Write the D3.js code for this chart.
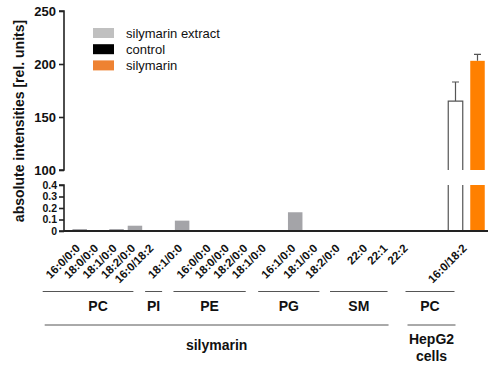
<!DOCTYPE html>
<html>
<head>
<meta charset="utf-8">
<script src="https://cdn.jsdelivr.net/npm/d3@7"></script>
<style>
  body { margin: 0; background: #fff; }
  svg { font-family: "Liberation Sans", Arial, sans-serif; }
</style>
</head>
<body>
<svg id="chart" width="488" height="367"></svg>
<script>
// category labels along the x axis
const categories = ["16:0/0:0", "18:0/0:0", "18:1/0:0", "18:2/0:0", "16:0/18:2",
    "18:1/0:0",
    "16:0/0:0", "18:0/0:0", "18:2/0:0", "18:1/0:0",
    "16:1/0:0", "18:1/0:0", "18:2/0:0",
    "22:0", "22:1", "22:2",
    "16:0/18:2"];
// position of each category along the axis (in category units, gaps between groups)
const slots = [0, 1, 2, 3, 4, 5.56, 7.1, 8.1, 9.1, 10.1, 11.7, 12.9, 14.1, 15.6, 16.7, 17.8, 21];
// which lipid class each category belongs to
const groupOf = [0, 0, 0, 0, 0, 1, 2, 2, 2, 2, 3, 3, 3, 4, 4, 4, 5];
const groupNames = ["PC", "PI", "PE", "PG", "SM", "PC"];
const sourceNames = [["silymarin"], ["HepG2", "cells"]];
const sourceOf = [0, 0, 0, 0, 0, 1];

// series values
const extractValues = [0.017, 0, 0.017, 0.046, 0, 0.09, 0, 0, 0, 0, 0.163, 0, 0, 0, 0, 0, null];
const controlValues = [null, null, null, null, null, null, null, null, null, null, null, null, null, null, null, null, 165];
const controlErr = [null, null, null, null, null, null, null, null, null, null, null, null, null, null, null, null, 18];
const silymarinValues = [null, null, null, null, null, null, null, null, null, null, null, null, null, null, null, null, 203];
const silymarinErr = [null, null, null, null, null, null, null, null, null, null, null, null, null, null, null, null, 6];

const legendNames = ["silymarin extract", "control", "silymarin"];
const legendColors = ["#c0c0c0", "#000000", "#ee8232"];

const topTicks = [100, 150, 200, 250];
const bottomTicks = [0, 0.1, 0.2, 0.3, 0.4];

const svg = d3.select("#chart");
const axisColor = "#222";
const lineColor = "#555";

const x = d3.scaleLinear().domain([0, 21]).range([79.7, 466.5]);
const yTop = d3.scaleLinear().domain([100, 250]).range([170, 11]);
const yBot = d3.scaleLinear().domain([0, 0.4]).range([231, 185]);
const axisX = 64;
const barW = 14.5;
const pairOffset = 11;

// y axis, upper segment
const topAxis = svg.append("g")
    .attr("transform", `translate(${axisX},0)`)
    .call(d3.axisLeft(yTop).tickValues(topTicks).tickSize(5).tickPadding(3));
topAxis.selectAll("text").style("font-size", "13px").style("font-weight", "bold").attr("fill", "#111");

// y axis, lower segment
const botAxis = svg.append("g")
    .attr("transform", `translate(${axisX},0)`)
    .call(d3.axisLeft(yBot).tickValues(bottomTicks).tickSize(5).tickPadding(2)
        .tickFormat(d => d === 0 ? "0" : d3.format(".1f")(d)));
botAxis.selectAll("text").style("font-size", "10.5px").style("font-weight", "bold").attr("fill", "#111");

[topAxis, botAxis].forEach(g => {
    g.select(".domain").attr("stroke", axisColor).attr("stroke-width", 1.6)
        .attr("d", g === topAxis
            ? `M-5,${yTop(100)}H0V${yTop(250)}H-5`
            : `M-5,${yBot(0)}H0V${yBot(0.4)}H-5`);
    g.selectAll(".tick line").attr("stroke", axisColor).attr("stroke-width", 1.6);
});

// y title
svg.append("text")
    .attr("transform", `translate(24,${(yTop(250) + yBot(0)) / 2}) rotate(-90)`)
    .attr("text-anchor", "middle")
    .style("font-size", "14px")
    .style("font-weight", "bold")
    .attr("fill", "#111")
    .text("absolute intensities [rel. units]");

// gray bars (silymarin extract)
svg.append("g").selectAll("rect")
    .data(extractValues.map((v, i) => ({ v, i })).filter(d => d.v))
    .enter().append("rect")
    .attr("x", d => x(slots[d.i]) - barW / 2)
    .attr("width", barW)
    .attr("y", d => yBot(d.v))
    .attr("height", d => yBot(0) - yBot(d.v))
    .attr("fill", "#a4a4a8");

// broken bars for HepG2 (value lies in the upper segment)
function brokenBar(values, errs, dx, fill, stroke) {
    const g = svg.append("g");
    values.forEach((v, i) => {
        if (v == null) return;
        const cx = x(slots[i]) + dx;
        const l = cx - barW / 2, r = cx + barW / 2;
        g.append("rect").attr("x", l).attr("width", barW)
            .attr("y", yBot(0.4)).attr("height", yBot(0) - yBot(0.4)).attr("fill", fill);
        g.append("rect").attr("x", l).attr("width", barW)
            .attr("y", yTop(v)).attr("height", yTop(100) - yTop(v)).attr("fill", fill);
        if (stroke) {
            g.append("path")
                .attr("d", `M${l},${yTop(100)}V${yTop(v)}H${r}V${yTop(100)}M${l},${yBot(0.4)}V${yBot(0)}M${r},${yBot(0.4)}V${yBot(0)}`)
                .attr("fill", "none").attr("stroke", stroke).attr("stroke-width", 1.2);
        }
        const e = errs[i];
        g.append("path")
            .attr("d", `M${cx},${yTop(v)}V${yTop(v + e)}M${cx - 3.5},${yTop(v + e)}H${cx + 3.5}`)
            .attr("fill", "none").attr("stroke", lineColor).attr("stroke-width", 1.2);
    });
}
brokenBar(controlValues, controlErr, -pairOffset, "#fff", lineColor);
brokenBar(silymarinValues, silymarinErr, pairOffset, "#ff8000", null);

// x baseline
svg.append("line")
    .attr("x1", axisX).attr("x2", 488)
    .attr("y1", yBot(0)).attr("y2", yBot(0))
    .attr("stroke", axisColor).attr("stroke-width", 1.8);

// rotated category labels
svg.append("g").selectAll("text")
    .data(categories)
    .enter().append("text")
    .attr("transform", (d, i) => `translate(${x(slots[i]) + 1},249) rotate(-45)`)
    .attr("text-anchor", "end")
    .style("font-size", "11.5px")
    .style("font-weight", "bold")
    .attr("fill", "#111")
    .text(d => d);

// lipid class brackets
const groupSpans = groupNames.map((name, gi) => {
    const idx = groupOf.map((g, i) => g === gi ? i : -1).filter(i => i >= 0);
    const paired = idx.some(i => controlValues[i] != null);
    const x0 = x(slots[idx[0]]) - 37 - (paired ? 24 : 0);
    const x1 = x(slots[idx[idx.length - 1]]) - 20 + (paired ? 8 : 0);
    return { name, x0, x1 };
});
const gLines = svg.append("g");
groupSpans.forEach((s, gi) => {
    gLines.append("line").attr("x1", s.x0).attr("x2", s.x1).attr("y1", 291.5).attr("y2", 291.5)
        .attr("stroke", lineColor).attr("stroke-width", 1);
    gLines.append("text").attr("x", (s.x0 + s.x1) / 2 + (gi === 0 ? 10 : 0)).attr("y", 310.5)
        .attr("text-anchor", "middle").style("font-size", "14px").style("font-weight", "bold")
        .attr("fill", "#111").text(s.name);
});

// sample source brackets
sourceNames.forEach((lines, si) => {
    const spans = groupSpans.filter((s, gi) => sourceOf[gi] === si);
    const x0 = d3.min(spans, s => s.x0) + 2;
    const x1 = d3.max(spans, s => s.x1) + 1;
    gLines.append("line").attr("x1", x0).attr("x2", x1).attr("y1", 325).attr("y2", 325)
        .attr("stroke", lineColor).attr("stroke-width", 1);
    const t = gLines.append("text").attr("text-anchor", "middle")
        .style("font-size", "14px").style("font-weight", "bold").attr("fill", "#111");
    lines.forEach((ln, k) => {
        t.append("tspan").attr("x", (x0 + x1) / 2)
            .attr("y", lines.length > 1 ? 344 + k * 17 : 350).text(ln);
    });
});

// legend
const legend = svg.append("g").attr("transform", "translate(93,28)");
legendNames.forEach((name, i) => {
    legend.append("rect").attr("x", 0).attr("y", i * 16.2).attr("width", 21).attr("height", 10)
        .attr("fill", legendColors[i]);
    legend.append("text").attr("x", 33).attr("y", i * 16.2 + 9.5)
        .style("font-size", "13px").attr("fill", "#111").text(name);
});
</script>
</body>
</html>
